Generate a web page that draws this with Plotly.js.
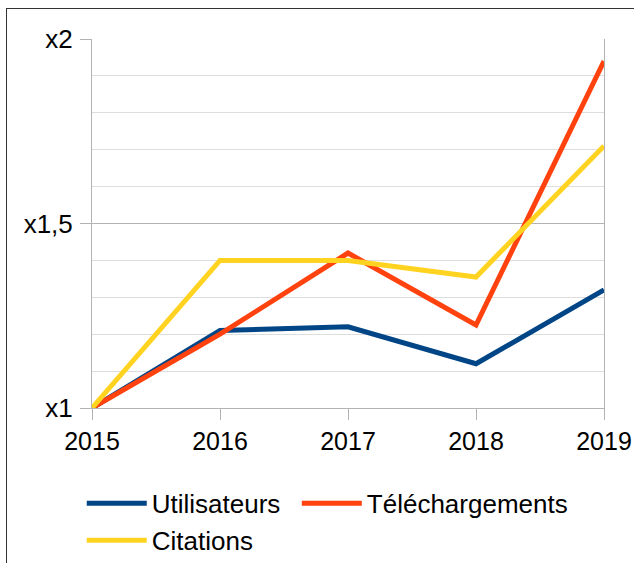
<!DOCTYPE html>
<html><head><meta charset="utf-8">
<script src="https://cdn.plot.ly/plotly-3.0.1.min.js"></script>
<style>
html,body{margin:0;padding:0;background:#fff;overflow:hidden;}
#frame{position:absolute;left:6px;top:8px;width:800px;height:800px;border-left:1.5px solid #333;border-top:1.5px solid #333;}
#chart{position:absolute;left:0;top:0;width:634px;height:563px;}
</style></head>
<body>
<div id="frame"></div>
<div id="chart"></div>
<script>
const years = [2015, 2016, 2017, 2018, 2019];
const utilisateurs = [1, 1.21, 1.22, 1.12, 1.32];
const telechargements = [1, 1.20, 1.42, 1.225, 1.94];
const citations = [1, 1.40, 1.40, 1.355, 1.71];
const yTickVals = [1, 1.5, 2];
const yTickText = ['x1', 'x1,5', 'x2'];
const seriesNames = ['Utilisateurs', 'Téléchargements', 'Citations'];
const colors = ['#004586', '#ff420e', '#ffd320'];
const legendIds = ['legend', 'legend2', 'legend'];

const data = [utilisateurs, telechargements, citations].map((v, i) => ({
  x: years, y: v, type: 'scatter', mode: 'lines', name: seriesNames[i],
  line: {color: colors[i], width: 5}, legend: legendIds[i]
}));

const legendCommon = {
  orientation: 'v', yanchor: 'top', xanchor: 'left', itemwidth: 60,
  font: {size: 26}, bgcolor: 'rgba(0,0,0,0)', traceorder: 'normal'
};

const layout = {
  width: 634, height: 563,
  margin: {l: 92, r: 30, t: 38.5, b: 155, autoexpand: false},
  paper_bgcolor: 'rgba(0,0,0,0)', plot_bgcolor: 'rgba(0,0,0,0)',
  font: {family: 'Liberation Sans, Arial, sans-serif', size: 26, color: '#000'},
  showlegend: true,
  xaxis: {
    range: [2015, 2019], tickvals: years, ticktext: years.map(String),
    showgrid: false, zeroline: false, showline: true, linecolor: '#b3b3b3', linewidth: 1,
    ticks: 'outside', ticklen: 11, tickcolor: '#b3b3b3', tickwidth: 1,
    tickfont: {size: 25}, automargin: false
  },
  yaxis: {
    range: [1, 2], tickvals: yTickVals, ticktext: yTickText,
    showgrid: true, gridcolor: '#b3b3b3', gridwidth: 1,
    minor: {dtick: 0.1, showgrid: true, gridcolor: '#dddddd', gridwidth: 1, ticks: ''},
    zeroline: false, showline: true, linecolor: '#b3b3b3', linewidth: 1, mirror: true,
    ticks: 'outside', ticklen: 11, tickcolor: '#b3b3b3', tickwidth: 1,
    ticklabelstandoff: 2,
    tickfont: {size: 26}, automargin: false
  },
  legend: Object.assign({}, legendCommon, {x: -0.02, y: -0.195}),
  legend2: Object.assign({}, legendCommon, {x: 0.4, y: -0.195})
};
Plotly.newPlot('chart', data, layout, {displayModeBar: false, staticPlot: true});
</script>
</body></html>
